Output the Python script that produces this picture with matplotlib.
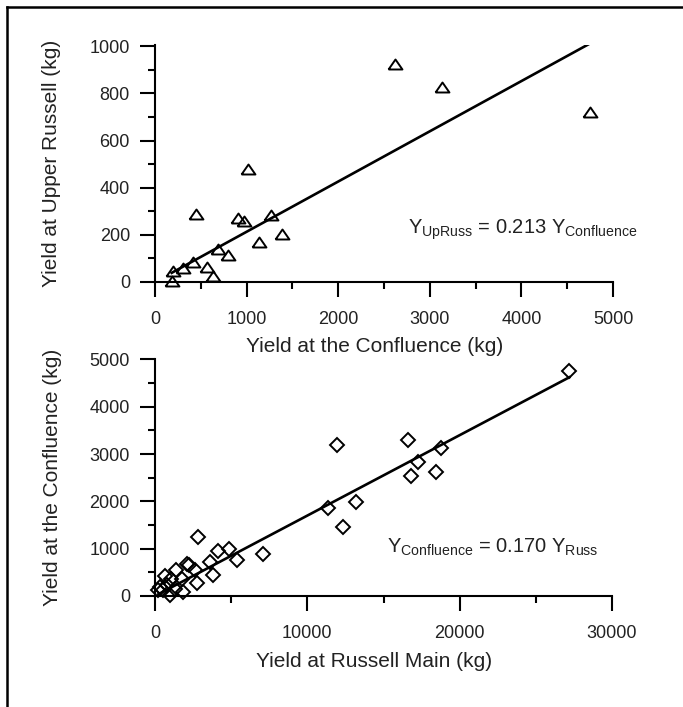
# two stacked scatter plots of yields with fitted lines through the origin

import matplotlib
matplotlib.use("Agg")
import matplotlib.pyplot as plt
from matplotlib.lines import Line2D
import numpy as np

# top panel: Confluence vs Upper Russell
conf_top = [182, 195, 310, 410, 445, 570, 630, 685, 800, 905, 970, 1015, 1130, 1270, 1385, 2620, 3130, 4745]
upruss = [5, 47, 58, 85, 287, 65, 26, 141, 114, 272, 258, 480, 171, 284, 202, 925, 829, 719]
slope_top = 0.213

# bottom panel: Russell Main vs Confluence
russ = [219, 328, 547, 766, 656, 1028, 985, 1313, 1379, 1751, 1816, 2079, 2254, 2626, 2779, 2845,
        3611, 3786, 4158, 4880, 5405, 7068, 11379, 11926, 12363, 13195, 16630, 16805, 17287, 18425,
        18753, 27199]
conf_bot = [134, 191, 134, 226, 424, 367, 14, 155, 558, 367, 85, 686, 650, 544, 276, 1237,
            721, 438, 947, 1004, 770, 898, 1852, 3194, 1449, 1993, 3300, 2544, 2827, 2615,
            3124, 4749]
slope_bot = 0.170

plt.rcParams['font.family'] = ['Liberation Sans', 'DejaVu Sans']
plt.rcParams['mathtext.fontset'] = 'custom'
plt.rcParams['mathtext.rm'] = 'Liberation Sans'
plt.rcParams['mathtext.it'] = 'Liberation Sans'

W, H = 683, 707
fig = plt.figure(figsize=(W / 100, H / 100), dpi=100)

# flat open triangle
tri = [(-1, -0.72), (1, -0.72), (0, 0.72), (-1, -0.72)]
txt_col = '#222222'


def style_axes(ax):
    ax.patch.set_visible(False)
    for s in ['top', 'right']:
        ax.spines[s].set_visible(False)
    for s in ['left', 'bottom']:
        ax.spines[s].set_linewidth(1.5)
    ax.tick_params(which='major', length=11, width=1.5, direction='out', labelsize=13,
                   labelcolor=txt_col)
    ax.tick_params(which='minor', length=5, width=1.5, direction='out')
    ax.tick_params(axis='x', which='major', pad=10)
    ax.tick_params(axis='y', which='major', pad=7)


# top axes
ax1 = fig.add_axes([155 / W, (H - 282) / H, (613 - 155) / W, (282 - 45) / H])
ax1.plot(conf_top, upruss, linestyle='none', marker=tri, markersize=10, mfc='none',
         mec='black', mew=1.4, clip_on=False)
xl = np.array([min(conf_top), max(conf_top)])
ax1.plot(xl, slope_top * xl, color='black', lw=1.9)
ax1.set_xlim(0, 5000)
ax1.set_ylim(0, 1005)
ax1.set_xticks(np.arange(0, 5001, 1000))
ax1.set_xticks(np.arange(500, 5000, 1000), minor=True)
ax1.set_yticks(np.arange(0, 1001, 200))
ax1.set_yticks(np.arange(100, 1000, 200), minor=True)
style_axes(ax1)
ax1.set_xlabel('Yield at the Confluence (kg)', fontsize=15, color=txt_col, va='center')
ax1.set_ylabel('Yield at Upper Russell (kg)', fontsize=15, color=txt_col, va='center')
ax1.xaxis.set_label_coords(0.48, -0.274)
ax1.yaxis.set_label_coords(-0.225, 0.5)
ax1.text(2762, 204, r'Y$_{\mathrm{UpRuss}}$ = 0.213 Y$_{\mathrm{Confluence}}$', fontsize=14.5,
         color=txt_col, va='baseline', ha='left')

# bottom axes
ax2 = fig.add_axes([155 / W, (H - 596) / H, (612 - 155) / W, (596 - 359) / H])
ax2.plot(russ, conf_bot, linestyle='none', marker='D', markersize=6.8, mfc='none',
         mec='black', mew=1.4, clip_on=False)
xl = np.array([min(russ), max(russ)])
ax2.plot(xl, slope_bot * xl, color='black', lw=1.9)
ax2.set_xlim(0, 30000)
ax2.set_ylim(0, 5010)
ax2.set_xticks(np.arange(0, 30001, 10000))
ax2.set_xticks(np.arange(5000, 30000, 10000), minor=True)
ax2.set_yticks(np.arange(0, 5001, 1000))
ax2.set_yticks(np.arange(500, 5000, 1000), minor=True)
style_axes(ax2)
ax2.set_xlabel('Yield at Russell Main (kg)', fontsize=15, color=txt_col, va='center')
ax2.set_ylabel('Yield at the Confluence (kg)', fontsize=15, color=txt_col, va='center')
ax2.xaxis.set_label_coords(0.48, -0.277)
ax2.yaxis.set_label_coords(-0.225, 0.5)
ax2.text(15233, 905, r'Y$_{\mathrm{Confluence}}$ = 0.170 Y$_{\mathrm{Russ}}$', fontsize=14.5,
         color=txt_col, va='baseline', ha='left')

# frame lines on the left and top of the figure
fig.add_artist(Line2D([7 / W, 7 / W], [0, 1 - 7 / H], color='black', lw=1.8,
                      transform=fig.transFigure))
fig.add_artist(Line2D([7 / W, 1], [1 - 7 / H, 1 - 7 / H], color='black', lw=1.8,
                      transform=fig.transFigure))

fig.savefig('out.png', dpi=100)
